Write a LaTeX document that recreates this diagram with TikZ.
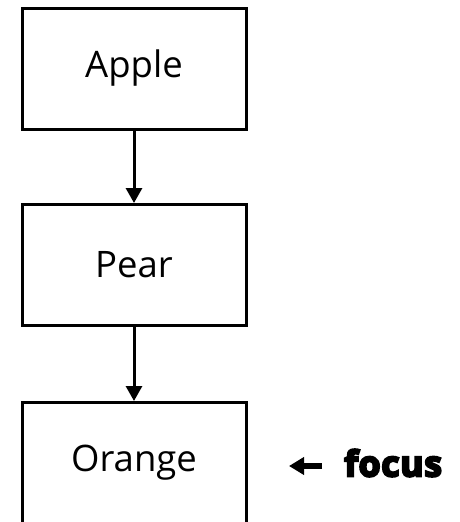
\documentclass[tikz,border=0pt]{standalone}
\usepackage{fontspec}
\setmainfont{Open Sans}
\newfontfamily\heavyfont[BoldFeatures={FakeBold=6, LetterSpace=2}]{Open Sans}
\usetikzlibrary{arrows.meta}
\begin{document}
\begin{tikzpicture}[x=1pt,y=1pt,
  fruit/.style={draw=black, line width=3pt, minimum width=224pt,
    minimum height=121pt, inner sep=0pt, font=\fontsize{36.5}{44}\selectfont},
  flow/.style={line width=3pt, -{Triangle[width=16pt,length=15pt]}},
  hint/.style={line width=5.5pt, -{Triangle[width=17pt,length=15pt]}},
  tag/.style={font=\fontsize{35.5}{40}\heavyfont\bfseries, inner sep=0pt, anchor=west}]
  \clip (0,0) rectangle (460,-522);
  % the three boxes of the chain
  \node[fruit] (apple)  at (134,-68.5) {Apple};
  \node[fruit] (pear)   at (134,-265)  {Pear};
  \node[fruit] (orange) at (134,-463)  {Orange};
  % links between the boxes
  \draw[flow] (apple.south) -- (pear.north);
  \draw[flow] (pear.south) -- (orange.north);
  % marker pointing at the last box
  \node[tag] (focus) at (344,-463) {focus};
  \coordinate (tip) at (289,-466);
  \draw[hint] (focus.west -| 322,0) ++(0,-3) -- (tip);
\end{tikzpicture}
\end{document}
